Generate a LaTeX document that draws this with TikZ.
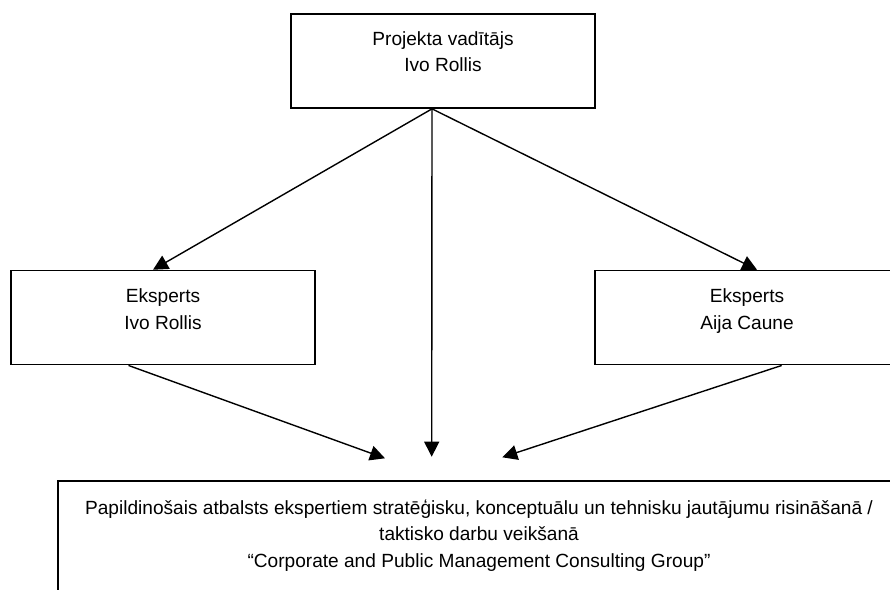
\documentclass[tikz,border=0pt]{standalone}
\usepackage{fontspec}
\setmainfont{Liberation Sans}
\usetikzlibrary{arrows.meta,calc}
\begin{document}
\begin{tikzpicture}[x=1pt,y=-1pt,
  box/.style={draw, line width=1.7pt, fill=white, rectangle, inner sep=0pt, minimum width=304pt, minimum height=94pt},
  lbl/.style={align=center, font=\fontsize{19.1}{26.5}\selectfont, inner sep=0pt, anchor=base},
  conn/.style={line width=1.4pt, -{Triangle[length=15pt,width=15pt]}}]
\useasboundingbox (0,0) rectangle (890,589);
\clip (0,0) rectangle (890,589);
\fill[white] (0,0) rectangle (890,589);
% boxes
\node[box] (top) at (443,61) {};
\node[box] (left) at (163,317.6) {};
\node[box] (right) at (747,317.6) {};
\node[box, minimum width=842pt, minimum height=140pt] (bottom) at (479,551) {};
% labels (base anchor = baseline of last line)
\node[lbl] (ttop) at ($(top.north)+(0,58.5)$) {Projekta vadītājs\\Ivo Rollis};
\node[lbl] (tleft) at ($(left.north)+(0,59.5)$) {Eksperts\\Ivo Rollis};
\node[lbl] (tright) at ($(right.north)+(0,59.5)$) {Eksperts\\Aija Caune};
\node[lbl] (tbottom) at ($(bottom.north)+(0,87)$) {Papildinošais atbalsts ekspertiem stratēģisku, konceptuālu un tehnisku jautājumu risināšanā /\\taktisko darbu veikšanā\\“Corporate and Public Management Consulting Group”};
% connectors
\coordinate (src) at ($(top.south)+(-11,0)$);
\coordinate (tipL) at (385,458.3);
\coordinate (tipM) at (431.7,456.7);
\coordinate (tipR) at (502.3,457.3);
\draw[conn] (src) -- ($(left.north)+(-10,0)$);
\draw[conn] (src) -- ($(right.north)+(10,0)$);
\draw[conn] (src) -- (tipM);
\draw[conn] ($(left.south)+(-34.5,0)$) -- (tipL);
\draw[conn] ($(right.south)+(34.7,0)$) -- (tipR);
\end{tikzpicture}
\end{document}
